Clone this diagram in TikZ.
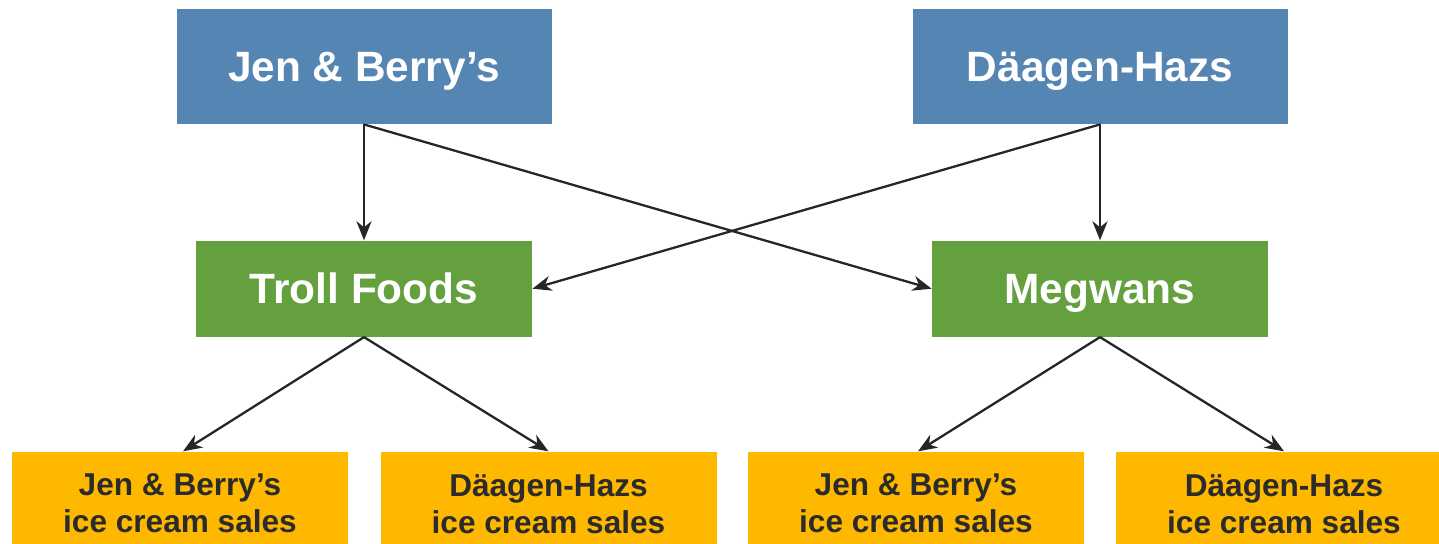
\documentclass[tikz,border=0pt]{standalone}
\usepackage{fontspec}
\setmainfont{Liberation Sans}
\usetikzlibrary{arrows.meta}
\definecolor{topblue}{HTML}{5585B3}
\definecolor{midgreen}{HTML}{64A03D}
\definecolor{botorange}{HTML}{FFB800}
\definecolor{linedark}{HTML}{262626}
\definecolor{textdark}{HTML}{2B2B2B}
\tikzset{
  topbox/.style={fill=topblue, text=white, font=\fontsize{21.2}{25}\selectfont\bfseries,
    minimum width=187.5pt, minimum height=57.5pt, inner sep=0pt,
    text height=15.2pt, text depth=0pt},
  midbox/.style={fill=midgreen, text=white, font=\fontsize{21.2}{25}\selectfont\bfseries,
    minimum width=168pt, minimum height=48pt, inner sep=0pt,
    text height=15.2pt, text depth=0pt},
  botbox/.style={fill=botorange, minimum width=168pt, minimum height=48pt, inner sep=0pt},
  bottext/.style={text=textdark, font=\fontsize{15.8}{18.5}\selectfont\bfseries,
    inner sep=0pt, align=center},
  conn/.style={draw=linedark, line width=1.15pt,
    -{Stealth[length=9.5pt,width=7.5pt,inset=3pt]}}
}
\begin{document}
\begin{tikzpicture}[x=0.5pt,y=-0.5pt]
\clip (0,0) rectangle (1439,543);
\node[topbox] (jb) at (364,66.5) {Jen \& Berry’s};
\node[topbox] (dh) at (1100,66.5) {Däagen-Hazs};
\node[midbox] (tf) at (364,288.7) {Troll Foods};
\node[midbox] (mg) at (1100,288.7) {Megwans};
\node[botbox] (b1) at (180,499.7) {};
\node[botbox] (b2) at (548.5,499.7) {};
\node[botbox] (b3) at (916,499.7) {};
\node[botbox] (b4) at (1284,499.7) {};
\node[bottext] (t1) at ([yshift=-2pt]b1.center) {Jen \& Berry’s\\ice cream sales};
\node[bottext] (t2) at ([yshift=-2pt]b2.center) {Däagen-Hazs\\ice cream sales};
\node[bottext] (t3) at ([yshift=-2pt]b3.center) {Jen \& Berry’s\\ice cream sales};
\node[bottext] (t4) at ([yshift=-2pt]b4.center) {Däagen-Hazs\\ice cream sales};
\draw[conn] (jb.south) -- (tf.north);
\draw[conn] (jb.south) -- (mg.west);
\draw[conn] (dh.south) -- (mg.north);
\draw[conn] (dh.south) -- (tf.east);
\draw[conn] (tf.south) -- ([xshift=1.5pt]b1.north);
\draw[conn] (tf.south) -- (b2.north);
\draw[conn] (mg.south) -- ([xshift=1pt]b3.north);
\draw[conn] (mg.south) -- (b4.north);
\end{tikzpicture}
\end{document}
